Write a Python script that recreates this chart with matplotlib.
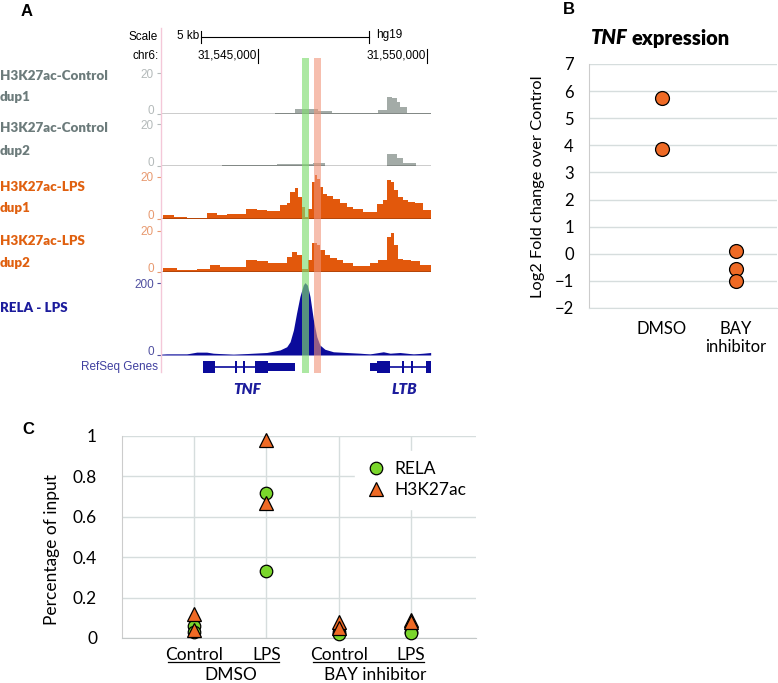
import matplotlib
matplotlib.use('Agg')
import matplotlib.pyplot as plt
from matplotlib.lines import Line2D

plt.rcParams['font.family'] = ['Lato', 'DejaVu Sans']
UCSC = 'Liberation Sans'

# ---- panel A : tracks (positions in kb, chr6:31,5xx,xxx) ----
win = (42.13, 50.12)

ctrl1_edges = [45.50, 46.09, 46.44, 46.79, 47.18, 48.56, 48.81, 48.96, 49.10, 49.20, 49.40, 50.11]
ctrl1_vals = [0.8, 2.4, 2.8, 1.6, 0.6, 2.1, 8.6, 7.8, 6.2, 3.7, 0.5]

ctrl2_edges = [43.93, 45.55, 46.29, 46.64, 46.98, 48.81, 49.10, 49.30, 49.69]
ctrl2_vals = [0.3, 0.6, 1.0, 1.3, 0.0, 5.7, 3.6, 1.1]

lps1_edges = [42.20, 42.50, 42.89, 43.48, 43.78, 44.07, 44.66, 44.96, 45.26, 45.65,
              45.85, 45.95, 46.09, 46.19, 46.29, 46.39, 46.49, 46.59, 46.69, 46.76,
              46.83, 46.93, 47.03, 47.23, 47.43, 47.62, 47.82, 48.12, 48.51, 48.71,
              48.83, 48.93, 49.02, 49.15, 49.30, 49.45, 49.64, 49.89, 50.11]
lps1_vals = [2.0, 1.3, 0.5, 3.0, 2.0, 2.5, 5.0, 4.4, 4.0, 6.7,
             7.5, 13, 14.5, 10.6, 5.6, 1.0, 5.0, 17.6, 20.8, 19,
             15, 12, 11, 9.4, 7.8, 6, 5, 3.3, 7, 9,
             18.4, 17.6, 13.7, 10.6, 9, 8.3, 7.5, 4.4]

lps2_edges = [42.20, 42.59, 43.19, 43.58, 43.88, 44.27, 44.66, 44.96, 45.31, 45.85,
              46.00, 46.14, 46.29, 46.49, 46.59, 46.74, 46.83, 46.98, 47.13, 47.33,
              47.52, 47.82, 48.31, 48.56, 48.81, 48.93, 49.02, 49.15, 49.30, 49.54,
              49.79, 50.11]
lps2_vals = [1.6, 0.8, 1.3, 3.2, 2.4, 2.1, 5.7, 5.4, 4.4, 7.3,
             9.8, 8.1, 1.1, 5.7, 14.1, 13, 10.6, 8.1, 6.8, 5.7,
             4.1, 2.8, 4.4, 5.7, 17.1, 19, 13, 6, 5.7, 5.2, 3.2]

rela_pos = [42.13, 42.30, 42.89, 43.19, 43.48, 43.68, 44.27, 44.86, 45.26, 45.65,
            45.85, 45.95, 46.05, 46.14, 46.24, 46.34, 46.39, 46.46, 46.54, 46.64,
            46.74, 46.83, 46.98, 47.23, 47.62, 48.02, 48.31, 48.71, 48.91, 49.20,
            49.60, 49.89, 50.11]
rela_vals = [2, 3, 3, 8, 8, 5, 2, 5, 7, 14,
             23, 37, 70, 116, 163, 195, 202, 195, 163, 98,
             51, 28, 16, 9, 7, 5, 3, 9, 5, 7,
             3, 5, 7]

# gene models : (start, end, half height)
tnf_introns = (43.73, 44.91)
tnf_exons = [(43.36, 43.73, 0.55), (44.32, 44.37, 0.55), (44.57, 44.62, 0.55),
             (44.91, 45.31, 0.55), (45.31, 46.09, 0.36)]
ltb_introns = (48.91, 50.11)
ltb_exons = [(48.31, 48.51, 0.36), (48.51, 48.91, 0.55), (49.25, 49.31, 0.55),
             (49.52, 49.58, 0.55), (49.97, 50.11, 0.55)]

green_region = (46.30, 46.51)
orange_region = (46.66, 46.86)
scale_start, scale_kb = 43.30, 5
chr_ticks = [45, 50]

# ---- panel B ----
b_groups = ['DMSO', 'BAY\ninhibitor']
b_dmso = [5.75, 3.85]
b_bay = [0.1, -0.57, -1.02]

# ---- panel C ----
c_conditions = ['Control', 'LPS', 'Control', 'LPS']
c_treatments = ['DMSO', 'BAY inhibitor']
c_rela = [[0.06, 0.03], [0.72, 0.33], [0.03, 0.02], [0.03, 0.025]]
c_h3k27ac = [[0.12, 0.04], [0.98, 0.67], [0.08, 0.05], [0.09, 0.08]]

ORANGE = '#EF6A25'
GREEN = '#7AD62B'
GRID = '#d6dddd'

W, H = 778, 683
fig = plt.figure(figsize=(W / 100, H / 100), dpi=100)


def box(x0, y0, x1, y1):
    return [x0 / W, 1 - y1 / H, (x1 - x0) / W, (y1 - y0) / H]


def ftext(x, y, s, **kw):
    return fig.text(x / W, 1 - y / H, s, **kw)


def track_ticks(ax, ymax, tcol):
    ax.set_yticks([0, ymax])
    ax.tick_params(axis='y', length=3, width=0.8, color=tcol, labelcolor=tcol,
                   labelsize=8.5, pad=2)
    ticks = ax.yaxis.get_major_ticks()
    ticks[0].label1.set_verticalalignment('baseline')
    for t in ticks:
        t.label1.set_family(UCSC)


# panel labels
ftext(27, 11, 'A', fontsize=12, fontweight='bold', family=UCSC, ha='center', va='center')
ftext(569, 9, 'B', fontsize=12, fontweight='bold', family=UCSC, ha='center', va='center')
ftext(28, 430, 'C', fontsize=12, fontweight='bold', family=UCSC, ha='center', va='center')

# track labels
labels_A = [
    (76, 'H3K27ac-Control', '#6c7b7b'), (97, 'dup1', '#6c7b7b'),
    (128, 'H3K27ac-Control', '#6c7b7b'), (151, 'dup2', '#6c7b7b'),
    (187, 'H3K27ac-LPS', '#e0600f'), (208, 'dup1', '#e0600f'),
    (241, 'H3K27ac-LPS', '#e0600f'), (263, 'dup2', '#e0600f'),
    (308, 'RELA - LPS', '#1c1c9c'),
]
for y, s, c in labels_A:
    ftext(0, y, s, fontsize=9.6, fontweight='heavy', color=c, ha='left', va='center')

# header: scale + chromosome coordinates
axh = fig.add_axes(box(161, 25, 431, 65))
axh.set_xlim(*win)
axh.set_ylim(65, 25)
axh.axis('off')
axh.plot([scale_start, scale_start + scale_kb], [37, 37], color='black', lw=0.8)
for x in (scale_start, scale_start + scale_kb):
    axh.plot([x, x], [31, 43], color='black', lw=0.8)
axh.text(scale_start - 0.04, 36, f'{scale_kb} kb', family=UCSC, fontsize=8.5, ha='right', va='center')
axh.text(scale_start + scale_kb + 0.2, 35, 'hg19', family=UCSC, fontsize=8.5, ha='left', va='center')
for p in chr_ticks:
    axh.plot([p, p], [49, 63], color='black', lw=0.8)
    axh.text(p - 0.02, 56, f'31,5{p:02d},000', family=UCSC, fontsize=8.5, ha='right', va='center')
ftext(158, 37, 'Scale', family=UCSC, fontsize=8.5, ha='right', va='center')
ftext(159, 56, 'chr6:', family=UCSC, fontsize=8.5, ha='right', va='center')

# pink left border
fig.add_artist(Line2D([161 / W, 161 / W], [1 - 28 / H, 1 - 372 / H], color='#f4c8d8', lw=1))

tracks = [
    (ctrl1_edges, ctrl1_vals, 73.3, 114.3, 20, '#a3aba7', '#b4baba'),
    (ctrl2_edges, ctrl2_vals, 124.3, 165.7, 20, '#a3aba7', '#b4baba'),
    (lps1_edges, lps1_vals, 176.7, 219.3, 20, '#e2580c', '#e89a70'),
    (lps2_edges, lps2_vals, 230.7, 271.7, 20, '#e2580c', '#e89a70'),
]
for edges, vals, top, base, ymax, col, tcol in tracks:
    ax = fig.add_axes(box(161, top, 431, base))
    ax.stairs(vals, edges, fill=True, color=col, lw=0, clip_on=False)
    ax.set_xlim(*win)
    ax.set_ylim(0, ymax)
    ax.axhline(0, color='black', lw=1)
    for s in ax.spines.values():
        s.set_visible(False)
    ax.set_xticks([])
    track_ticks(ax, ymax, tcol)
    ax.patch.set_alpha(0)

axr = fig.add_axes(box(161, 283.3, 431, 355))
axr.fill_between(rela_pos, rela_vals, color='#0b0b9b', lw=0)
axr.set_xlim(*win)
axr.set_ylim(0, 200)
axr.axhline(0, color='#0b0b9b', lw=1)
for s in axr.spines.values():
    s.set_visible(False)
axr.set_xticks([])
track_ticks(axr, 200, '#5050a0')
axr.patch.set_alpha(0)

# RefSeq genes
axg = fig.add_axes(box(161, 356, 431, 378))
axg.set_xlim(*win)
axg.set_ylim(-1, 1)
axg.axis('off')
for (a, b), exons in ((tnf_introns, tnf_exons), (ltb_introns, ltb_exons)):
    axg.plot([a, b], [0, 0], color='#0b0b9b', lw=1.2)
    for s, e, h in exons:
        axg.broken_barh([(s, e - s)], (-h, 2 * h), color='#0b0b9b', lw=0)
ftext(158, 367, 'RefSeq Genes', family=UCSC, fontsize=8.5, color='#4040a0', ha='right', va='center')
ftext(247, 390, 'TNF', fontsize=11, fontweight='heavy', fontstyle='italic', color='#1c1c9c', ha='center', va='center')
ftext(404, 390, 'LTB', fontsize=11, fontweight='heavy', fontstyle='italic', color='#1c1c9c', ha='center', va='center')

# highlight bands
axb = fig.add_axes(box(161, 58, 431, 373))
axb.set_xlim(*win)
axb.axis('off')
axb.axvspan(*green_region, color='#80dc70', alpha=0.65, lw=0)
axb.axvspan(*orange_region, color='#f09478', alpha=0.6, lw=0)

# ---- panel B ----
axB = fig.add_axes(box(589, 64, 777, 308))
axB.scatter([1] * len(b_dmso), b_dmso, s=100, color=ORANGE, edgecolor='black', lw=0.9, zorder=3)
axB.scatter([2] * len(b_bay), b_bay, s=100, color=ORANGE, edgecolor='black', lw=0.9, zorder=3)
axB.set_ylim(-2, 7)
axB.set_xlim(0.014, 2.56)
axB.set_yticks(range(-2, 8))
axB.set_xticks([1, 2], b_groups)
axB.grid(axis='y', color=GRID, lw=1)
axB.set_axisbelow(True)
for k in ('top', 'right'):
    axB.spines[k].set_visible(False)
axB.spines['left'].set_color('#cccccc')
axB.spines['bottom'].set_color(GRID)
axB.tick_params(axis='y', length=0, labelsize=12, pad=11)
axB.tick_params(axis='x', length=0, labelsize=12, pad=9)
ftext(538, 187, 'Log2 Fold change over Control', fontsize=11.8, rotation=90, ha='center', va='center')
ftext(628, 38, 'TNF', fontsize=14.5, fontweight='heavy', fontstyle='italic', ha='right', va='center')
ftext(632, 38, 'expression', fontsize=14.5, fontweight='heavy', ha='left', va='center')

# ---- panel C ----
axC = fig.add_axes(box(122, 436, 476, 638))
xs = range(1, len(c_conditions) + 1)
for x, vals in zip(xs, c_rela):
    axC.plot([x] * len(vals), vals, 'o', ms=9, mfc=GREEN, mec='black', mew=0.9, clip_on=False, zorder=3)
for x, vals in zip(xs, c_h3k27ac):
    axC.plot([x] * len(vals), vals, '^', ms=10, mfc=ORANGE, mec='black', mew=0.9, clip_on=False, zorder=4)
axC.set_xlim(0, 4.9)
axC.set_ylim(0, 1)
axC.set_xticks(list(xs))
axC.set_xticklabels([])
axC.set_yticks([0, 0.2, 0.4, 0.6, 0.8, 1])
axC.set_yticklabels(['0', '0.2', '0.4', '0.6', '0.8', '1'])
axC.grid(color=GRID, lw=1)
axC.set_axisbelow(True)
for k in ('top', 'right'):
    axC.spines[k].set_visible(False)
axC.spines['left'].set_color('#cccccc')
axC.spines['bottom'].set_color('#c4c8c8')
axC.tick_params(axis='y', length=0, labelsize=12.5, pad=18)
axC.tick_params(axis='x', length=0)
tr = axC.get_xaxis_transform()
for x, s in zip(xs, c_conditions):
    axC.text(x, -0.084, s, transform=tr, fontsize=12.5, ha='center', va='center')
for i, s in enumerate(c_treatments):
    a, b = 2 * i + 1, 2 * i + 2
    axC.plot([a - 0.36, b + 0.18], [-0.119, -0.119], color='black', lw=0.9, transform=tr, clip_on=False)
    axC.text((a + b) / 2, -0.185, s, transform=tr, fontsize=12.5, ha='center', va='center')
ftext(52, 550, 'Percentage of input', fontsize=12.5, rotation=90, ha='center', va='center')

handles = [
    Line2D([], [], ls='none', marker='o', ms=9, mfc=GREEN, mec='black', mew=0.9),
    Line2D([], [], ls='none', marker='^', ms=10, mfc=ORANGE, mec='black', mew=0.9),
]
leg = axC.legend(handles, ['RELA', 'H3K27ac'], loc='upper left',
                 bbox_to_anchor=(346 / W, 1 - 442 / H), bbox_transform=fig.transFigure,
                 fontsize=12.5, frameon=True, fancybox=False, framealpha=1,
                 edgecolor='white', handletextpad=0.5, labelspacing=0.3,
                 borderpad=0.6, handlelength=1.2)

fig.savefig('out.png', dpi=100)
